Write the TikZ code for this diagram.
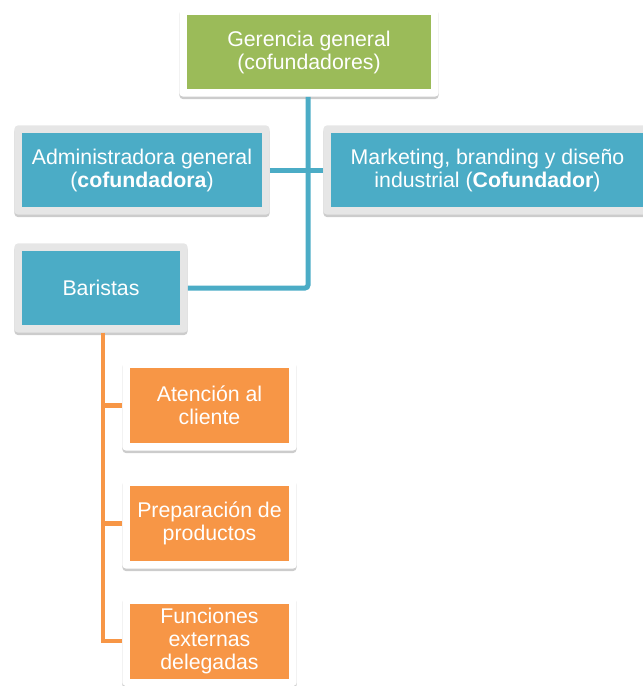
\documentclass[tikz,border=0pt]{standalone}
\usepackage{fontspec}
\setmainfont{Liberation Sans}
\usetikzlibrary{positioning,fit,backgrounds,shadows}
\definecolor{cgreen}{HTML}{9BBB59}
\definecolor{cblue}{HTML}{4BACC6}
\definecolor{corange}{HTML}{F79646}
\definecolor{cframe}{HTML}{E6E6E6}
\tikzset{
  box/.style={rectangle, inner sep=0pt, align=center, text=white,
    font=\fontsize{21.3}{23}\selectfont},
  frame/.style={rectangle, rounded corners=4pt, inner sep=7.5pt,
    drop shadow={shadow xshift=0pt, shadow yshift=-2.5pt, opacity=0.2, fill=black}},
  blueline/.style={draw=cblue, line width=5pt, rounded corners=3pt},
  orangeline/.style={draw=corange, line width=4.5pt},
}
\begin{document}
\begin{tikzpicture}[x=1pt,y=-1pt]
\useasboundingbox (0,0) rectangle (643,686);
\clip (0,0) rectangle (643,686);
% boxes
\node[box, fill=cgreen, minimum width=244pt, minimum height=74pt] (g) at (309,52) {Gerencia general\\(cofundadores)};
\node[box, fill=cblue, minimum width=240pt, minimum height=74pt] (a) at (142,170) {Administradora general\\(\textbf{cofundadora})};
\node[box, fill=cblue, minimum width=313pt, minimum height=74pt] (m) at (487.5,170) {Marketing, branding y diseño\\industrial (\textbf{Cofundador})};
\node[box, fill=cblue, minimum width=158pt, minimum height=74pt] (b) at (101,288) {Baristas};
\node[box, fill=corange, minimum width=159pt, minimum height=75pt] (o1) at (209.5,405.5) {Atención al\\cliente};
\node[box, fill=corange, minimum width=159pt, minimum height=75pt] (o2) at (209.5,523.5) {Preparación de\\productos};
\node[box, fill=corange, minimum width=159pt, minimum height=75pt] (o3) at (209.5,641) {Funciones\\externas\\delegadas};
\begin{scope}[on background layer]
\node[frame, fill=white, fit=(g)] (gf) {};
\node[frame, fill=cframe, fit=(a)] (af) {};
\node[frame, fill=cframe, fit=(m)] (mf) {};
\node[frame, fill=cframe, fit=(b)] (bf) {};
\node[frame, fill=white, fit=(o1)] (o1f) {};
\node[frame, fill=white, fit=(o2)] (o2f) {};
\node[frame, fill=white, fit=(o3)] (o3f) {};
\end{scope}
% connectors
\begin{scope}[on background layer]
\draw[blueline] ([xshift=-1pt]gf.south) |- (bf.east);
\draw[blueline] (af.east) -- (mf.west);
\draw[orangeline] ([xshift=2pt]bf.south) |- (o1f.west);
\draw[orangeline] ([xshift=2pt]bf.south) |- (o2f.west);
\draw[orangeline] ([xshift=2pt]bf.south) |- (o3f.west);
\end{scope}
\end{tikzpicture}
\end{document}
